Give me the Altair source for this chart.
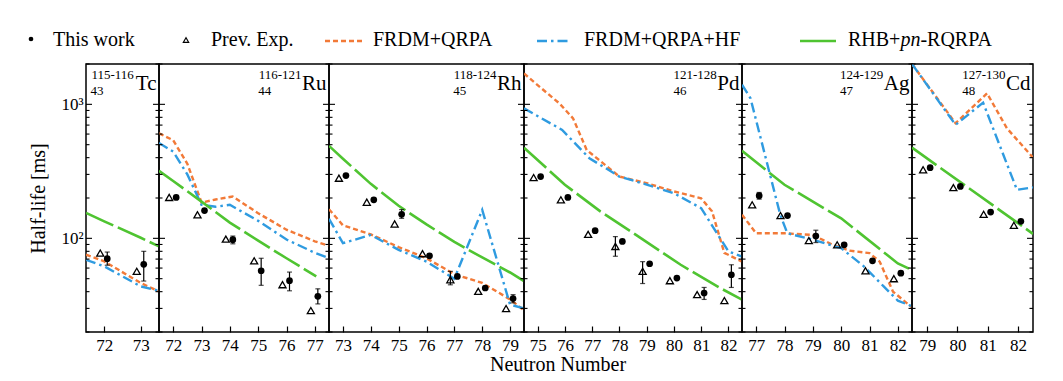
import math
import altair as alt
import pandas as pd

FONT = "Liberation Serif"

# ---------------- data ----------------
ISOTOPES = ["Tc", "Ru", "Rh", "Pd", "Ag", "Cd"]
PROTON_Z = ["43", "44", "45", "46", "47", "48"]
MASS_RANGES = ["115-116", "116-121", "118-124", "121-128", "124-129", "127-130"]

# This work (filled circles)
THIS_PANEL = ["Tc", "Tc",
              "Ru", "Ru", "Ru", "Ru", "Ru", "Ru",
              "Rh", "Rh", "Rh", "Rh", "Rh", "Rh", "Rh",
              "Pd", "Pd", "Pd", "Pd", "Pd", "Pd", "Pd", "Pd",
              "Ag", "Ag", "Ag", "Ag", "Ag", "Ag",
              "Cd", "Cd", "Cd", "Cd"]
THIS_N = [72, 73,
          72, 73, 74, 75, 76, 77,
          73, 74, 75, 76, 77, 78, 79,
          75, 76, 77, 78, 79, 80, 81, 82,
          77, 78, 79, 80, 81, 82,
          79, 80, 81, 82]
THIS_T = [70.5, 64,
          202, 161, 97.7, 57.3, 48.3, 36.9,
          294, 194, 151, 74, 52, 42.6, 35.5,
          289, 202, 114, 94.8, 64.6, 50.5, 39.1, 53.5,
          208, 148, 104, 89.5, 68, 55,
          337, 244, 157, 134]
THIS_ERR_PANEL = ["Tc", "Tc", "Ru", "Ru", "Ru", "Ru", "Rh", "Rh", "Pd", "Pd", "Ag", "Ag"]
THIS_ERR_N = [72, 73, 74, 75, 76, 77, 75, 79, 81, 82, 77, 79]
THIS_ERR_LO = [63, 48, 91, 44.6, 40.6, 32.4, 141, 33, 35, 43, 196, 93]
THIS_ERR_HI = [79, 80, 104, 71, 56, 42, 164, 38, 43, 63.5, 220, 115]

# Previous experiments (open triangles)
PREV_PANEL = THIS_PANEL
PREV_N = THIS_N
PREV_T = [77.6, 56.7,
          202, 150, 98.6, 68, 45.1, 28.9,
          281, 186, 128, 76.8, 49.1, 40.2, 29.9,
          284, 194, 107, 87, 56.7, 48.3, 38, 34.3,
          178, 148, 96.2, 89.5, 57.3, 50,
          325, 239, 151, 125]
PREV_ERR_PANEL = ["Rh", "Pd", "Pd"]
PREV_ERR_N = [77, 78, 79]
PREV_ERR_LO = [45, 73.5, 46]
PREV_ERR_HI = [56.7, 103, 67]

# Model curves
TC_FRDM_N = [71.5, 72, 73, 73.5]
TC_FRDM_T = [75.5, 67.3, 46.4, 40.2]
TC_HF_N = [71.5, 72, 73, 73.5]
TC_HF_T = [69.2, 61.8, 43.8, 40.6]
TC_RHB_N = [71.5, 72, 73, 73.5]
TC_RHB_T = [155, 134, 101, 87]

RU_FRDM_N = [71.5, 72, 72.5, 73, 73.5, 74.1, 75, 76, 77, 77.5]
RU_FRDM_T = [608, 540, 360, 185, 195, 205, 154, 116, 95, 88]
RU_HF_N = [71.5, 72, 72.5, 73, 73.5, 74, 75, 76, 77, 77.5]
RU_HF_T = [515, 444, 300, 178, 172, 178, 135, 98, 78, 71]
RU_RHB_N = [71.5, 72, 73, 74, 75, 76, 77.05]
RU_RHB_T = [319, 268, 188, 131, 96, 71, 52]

RH_FRDM_N = [72.5, 73, 74, 75, 76, 77, 78, 79, 79.5]
RH_FRDM_T = [165, 125, 107, 86, 71, 54, 46.5, 35, 29]
RH_HF_N = [72.5, 73, 74, 75, 76, 77, 78, 79, 79.5]
RH_HF_T = [140, 92, 106, 82, 67, 50, 163, 32, 30]
RH_RHB_N = [72.5, 73, 74, 75, 76, 77, 78, 79, 79.5]
RH_RHB_T = [490, 393, 255, 175, 127, 94, 72, 55.6, 48]

PD_FRDM_N = [74.5, 75, 75.8, 76.3, 76.8, 78, 79, 80, 81, 81.4, 81.85, 82.5]
PD_FRDM_T = [1700, 1390, 1016, 786, 457, 289, 258, 224, 199, 159, 78, 67]
PD_HF_N = [74.5, 75.9, 76.9, 78, 79, 80, 81, 82, 82.5]
PD_HF_T = [934, 644, 396, 289, 252, 217, 168, 80, 73]
PD_RHB_N = [74.5, 76, 77.3, 78.8, 80.25, 81.7, 82.5]
PD_RHB_T = [475, 251, 159, 100, 63.5, 42.6, 34.9]

AG_FRDM_N = [76.5, 77, 78, 79, 79.7, 80.3, 81, 81.36, 81.83, 82.5]
AG_FRDM_T = [150, 109, 109, 106, 89.5, 81, 77.6, 67, 40, 30.5]
AG_HF_N = [76.5, 76.8, 77.85, 78.1, 79, 80, 80.8, 81.5, 82, 82.5]
AG_HF_T = [1400, 1109, 150, 109, 97.7, 84.5, 61.8, 43.8, 34.3, 31.1]
AG_RHB_N = [76.5, 78, 80, 82, 82.5]
AG_RHB_T = [450, 251, 141, 65, 58]

CD_FRDM_N = [78.5, 79.94, 80.98, 81.64, 82.5]
CD_FRDM_T = [2000, 722, 1208, 662, 400]
CD_HF_N = [78.5, 79.94, 80.85, 81.97, 82.5]
CD_HF_T = [2000, 703, 1030, 230, 240]
CD_RHB_N = [78.5, 82.5]
CD_RHB_T = [475, 108]

LEGEND_LABELS = ["This work", "Prev. Exp.", "FRDM+QRPA", "FRDM+QRPA+HF", "RHB+", "pn", "-RQRPA"]
Y_TITLE = "Half-life [ms]"
X_TITLE = "Neutron Number"
Y_MAJOR = [100, 1000]
Y_MINOR = [20, 30, 40, 50, 60, 70, 80, 90, 200, 300, 400, 500, 600, 700, 800, 900, 2000]

# ---------------- layout / style ----------------
WIDTHS = [73, 170, 195, 218, 170, 121]
TOTAL_W = sum(WIDTHS)
XDOMAINS = [(71.5, 73.5), (71.5, 77.5), (72.5, 79.5), (74.5, 82.5), (76.5, 82.5), (78.5, 82.5)]
Y_DOMAIN = [20, 2000]
H = 268
LEG_H = 52
P = 86  # page x of the plot area's left edge (legend offsets measured from here)
ORANGE = "#F27A38"
BLUE = "#2F9BE0"
GREEN = "#4FC431"
STYLES = {
    "FRDM": dict(color=ORANGE, strokeDash=[5, 3], strokeWidth=2.4),
    "HF": dict(color=BLUE, strokeDash=[10, 4, 2.5, 4], strokeWidth=2.4),
    "RHB": dict(color=GREEN, strokeDash=[30, 5], strokeWidth=2.6),
}
CHAR_W = {"T": .611, "c": .444, "R": .667, "u": .5, "h": .5, "P": .556, "d": .5,
          "A": .722, "g": .5, "C": .667, "-": .333, "+": .564, "B": .667, "H": .722}


def text_width(s, size):
    return sum(CHAR_W.get(ch, 0.5) for ch in s) * size


curve_rows = []


def add_curve(panel, model, ns, ts):
    for n, t in zip(ns, ts):
        curve_rows.append({"panel": panel, "model": model, "N": n, "T": t})


add_curve("Tc", "FRDM", TC_FRDM_N, TC_FRDM_T)
add_curve("Tc", "HF", TC_HF_N, TC_HF_T)
add_curve("Tc", "RHB", TC_RHB_N, TC_RHB_T)
add_curve("Ru", "FRDM", RU_FRDM_N, RU_FRDM_T)
add_curve("Ru", "HF", RU_HF_N, RU_HF_T)
add_curve("Ru", "RHB", RU_RHB_N, RU_RHB_T)
add_curve("Rh", "FRDM", RH_FRDM_N, RH_FRDM_T)
add_curve("Rh", "HF", RH_HF_N, RH_HF_T)
add_curve("Rh", "RHB", RH_RHB_N, RH_RHB_T)
add_curve("Pd", "FRDM", PD_FRDM_N, PD_FRDM_T)
add_curve("Pd", "HF", PD_HF_N, PD_HF_T)
add_curve("Pd", "RHB", PD_RHB_N, PD_RHB_T)
add_curve("Ag", "FRDM", AG_FRDM_N, AG_FRDM_T)
add_curve("Ag", "HF", AG_HF_N, AG_HF_T)
add_curve("Ag", "RHB", AG_RHB_N, AG_RHB_T)
add_curve("Cd", "FRDM", CD_FRDM_N, CD_FRDM_T)
add_curve("Cd", "HF", CD_HF_N, CD_HF_T)
add_curve("Cd", "RHB", CD_RHB_N, CD_RHB_T)
curves = pd.DataFrame(curve_rows)

this_df = pd.DataFrame({"panel": THIS_PANEL, "N": THIS_N, "T": THIS_T})
prev_df = pd.DataFrame({"panel": PREV_PANEL, "N": PREV_N, "T": PREV_T})
this_err = pd.DataFrame({"panel": THIS_ERR_PANEL, "N": THIS_ERR_N, "lo": THIS_ERR_LO, "hi": THIS_ERR_HI})
prev_err = pd.DataFrame({"panel": PREV_ERR_PANEL, "N": PREV_ERR_N, "lo": PREV_ERR_LO, "hi": PREV_ERR_HI})
major_df = pd.DataFrame({"v": Y_MAJOR})
minor_df = pd.DataFrame({"v": Y_MINOR})

TRI_DX = -4
CIR_DX = 3


def txt(s, x, y, size, align="left", style="normal"):
    return alt.Chart(pd.DataFrame({"s": [s]})).mark_text(
        font=FONT, fontSize=size, align=align, baseline="alphabetic",
        fontStyle=style, color="black"
    ).encode(text="s:N", x=alt.value(x), y=alt.value(y))


def panel(i):
    p = ISOTOPES[i]
    w = WIDTHS[i]
    lo, hi = XDOMAINS[i]
    xscale = alt.Scale(domain=[lo, hi], nice=False, zero=False)
    yscale = alt.Scale(type="log", domain=Y_DOMAIN, nice=False)
    xticks = list(range(math.ceil(lo), math.floor(hi) + 1))
    xaxis = alt.Axis(values=xticks, title=None, grid=False, domain=False,
                     tickSize=6, offset=-6, tickColor="black", tickWidth=1.2,
                     labelPadding=5, labelFont=FONT, labelFontSize=17,
                     labelColor="black", format="d", labelOverlap=False,
                     labelFlush=False)
    if i == 0:
        yaxis = alt.Axis(values=Y_MAJOR, labelExpr="datum.value >= 1000 ? '10\u00b3' : '10\u00b2'",
                         ticks=False, domain=False, grid=False, labelPadding=3,
                         labelFont=FONT, labelFontSize=17, labelColor="black",
                         labelOverlap=False, title=Y_TITLE, titleFont=FONT,
                         titleFontSize=20, titleFontWeight="normal",
                         titleColor="black", titlePadding=12)
    else:
        yaxis = None

    def X(f):
        return alt.X(f, type="quantitative", scale=xscale, axis=xaxis)

    def Y(f):
        return alt.Y(f, type="quantitative", scale=yscale, axis=yaxis)

    layers = []
    for m in ["FRDM", "HF", "RHB"]:
        d = curves[(curves.panel == p) & (curves.model == m)]
        layers.append(alt.Chart(d).mark_line(clip=True, **STYLES[m]).encode(
            x=X("N"), y=Y("T")))

    for edf, dx in [(this_err, CIR_DX), (prev_err, TRI_DX)]:
        d = edf[edf.panel == p]
        if len(d):
            base = alt.Chart(d)
            layers.append(base.mark_rule(color="black", strokeWidth=1.2, xOffset=dx).encode(
                x=X("N"), y=Y("lo"), y2="hi"))
            layers.append(base.mark_tick(color="black", orient="horizontal", size=5,
                                         thickness=1.2, xOffset=dx).encode(x=X("N"), y=Y("lo")))
            layers.append(base.mark_tick(color="black", orient="horizontal", size=5,
                                         thickness=1.2, xOffset=dx).encode(x=X("N"), y=Y("hi")))

    layers.append(alt.Chart(prev_df[prev_df.panel == p]).mark_point(
        shape="triangle-up", filled=False, color="black", strokeWidth=1.3,
        size=50, xOffset=TRI_DX, opacity=1).encode(x=X("N"), y=Y("T")))
    layers.append(alt.Chart(this_df[this_df.panel == p]).mark_point(
        shape="circle", filled=True, color="black", size=45, xOffset=CIR_DX,
        opacity=1).encode(x=X("N"), y=Y("T")))

    for df, ln in [(major_df, 6), (minor_df, 3.5)]:
        layers.append(alt.Chart(df).mark_rule(color="black", strokeWidth=1.1).encode(
            y=Y("v"), x=alt.value(0), x2=alt.value(ln)))
        layers.append(alt.Chart(df).mark_rule(color="black", strokeWidth=1.1).encode(
            y=Y("v"), x=alt.value(w - ln), x2=alt.value(w)))

    sym = ISOTOPES[i]
    sym_size = 21
    sup_size = 13
    sym_w = text_width(sym, sym_size)
    sup_right = w - 2.5 - sym_w - 0.5
    sup_left = sup_right - text_width(MASS_RANGES[i], sup_size)
    layers.append(txt(sym, w - 2.5, 26, sym_size, align="right"))
    layers.append(txt(MASS_RANGES[i], sup_right, 15, sup_size, align="right"))
    layers.append(txt(PROTON_Z[i], sup_left, 31, sup_size, align="left"))

    return alt.layer(*layers).properties(width=w, height=H)


panels = alt.hconcat(*[panel(i) for i in range(6)], spacing=0, bounds="flush")

# ---------------- custom legend (x measured from the plot's left edge) ----------------
LY_T = 37
LY_M = 32
leg_layers = []
leg_layers.append(alt.Chart(pd.DataFrame({"m": ["this"]})).mark_point(
    shape="circle", filled=True, color="black", size=22, opacity=1).encode(
    x=alt.value(31 - P), y=alt.value(LY_M - 2)))
leg_layers.append(txt(LEGEND_LABELS[0], 53 - P, LY_T, 20))
leg_layers.append(alt.Chart(pd.DataFrame({"m": ["prev"]})).mark_point(
    shape="triangle-up", filled=False, color="black", strokeWidth=1.2, size=28, opacity=1).encode(
    x=alt.value(186 - P), y=alt.value(LY_M - 1)))
leg_layers.append(txt(LEGEND_LABELS[1], 211 - P, LY_T, 20))
for m, x0, x1 in [("FRDM", 325, 362), ("HF", 537, 570)]:
    leg_layers.append(alt.Chart(pd.DataFrame({"m": [m]})).mark_rule(**STYLES[m]).encode(
        x=alt.value(x0 - P), x2=alt.value(x1 - P), y=alt.value(LY_M)))
leg_layers.append(txt(LEGEND_LABELS[2], 373 - P, LY_T, 20))
leg_layers.append(txt(LEGEND_LABELS[3], 584 - P, LY_T, 20))
leg_layers.append(alt.Chart(pd.DataFrame({"m": ["RHB"]})).mark_rule(
    color=GREEN, strokeWidth=2.6).encode(
    x=alt.value(800 - P), x2=alt.value(836 - P), y=alt.value(LY_M)))
x_rhb = 848 - P
leg_layers.append(txt(LEGEND_LABELS[4], x_rhb, LY_T, 20))
x_pn = x_rhb + text_width(LEGEND_LABELS[4], 20)
leg_layers.append(txt(LEGEND_LABELS[5], x_pn, LY_T, 20, style="italic"))
leg_layers.append(txt(LEGEND_LABELS[6], x_pn + 20, LY_T, 20))
legend = alt.layer(*leg_layers).properties(
    width=TOTAL_W, height=LEG_H, view=alt.ViewBackground(stroke="transparent"))

xtitle = txt(X_TITLE, 558 - P, 8, 20, align="center").properties(
    width=TOTAL_W, height=10, view=alt.ViewBackground(stroke="transparent"))

chart = alt.vconcat(legend, panels, xtitle, spacing=0).properties(
    padding={"left": 19, "top": 0, "right": 0, "bottom": 0},
    background="white",
).configure_view(stroke="black", strokeWidth=1.5)

chart.save("out.html", embed_options={"renderer": "svg", "actions": False})
